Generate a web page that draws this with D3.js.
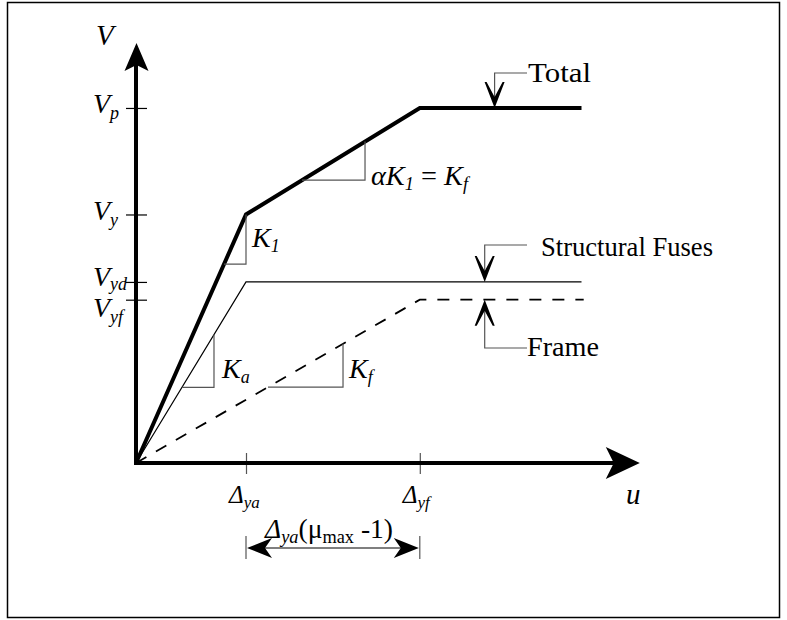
<!DOCTYPE html>
<html><head><meta charset="utf-8">
<script src="https://cdn.jsdelivr.net/npm/d3@7"></script>
<style>
html,body{margin:0;padding:0;background:#fff;}
svg text{font-family:"Liberation Serif","Times New Roman",serif;fill:#000;}
</style></head>
<body>
<svg id="c" width="787" height="620" font-family="Liberation Serif, Times New Roman, serif"></svg>
<script>
// ---- data (normalized displacement u, base shear V) ----
const uMax = 4.58, vMax = 1.183;
const uTickValues = [1, 2.58];
const uTickSubs = ["ya", "yf"];
const vTickValues = [1.0, 0.70, 0.51, 0.46];
const vTickSubs = ["p", "y", "yd", "yf"];
const totalU = [0, 1, 2.58, 4.05];
const totalV = [0, 0.70, 1.0, 1.0];
const fuseU = [0, 1, 4.05];
const fuseV = [0, 0.51, 0.51];
const frameU = [0, 2.58, 4.07];
const frameV = [0, 0.46, 0.46];
// slope triangles: which curve, start u, end u
const triCurve = ["total", "total", "fuse", "frame"];
const triU1 = [0.80, 1.509, 0.418, 1.20];
const triU2 = [1.0, 2.082, 0.709, 1.882];
const seriesNames = ["Total", "Structural Fuses", "Frame"];
const seriesArrowU = [3.26, 3.17, 3.17];

const curves = {
  total: {u: totalU, v: totalV},
  fuse: {u: fuseU, v: fuseV},
  frame: {u: frameU, v: frameV}
};
function valueAt(c, u) {
  const us = curves[c].u, vs = curves[c].v;
  for (let i = 1; i < us.length; i++) {
    if (u <= us[i]) return vs[i-1] + (vs[i]-vs[i-1])*(u-us[i-1])/(us[i]-us[i-1]);
  }
  return vs[vs.length-1];
}

const svg = d3.select("#c");
const x = d3.scaleLinear().domain([0, uMax]).range([136, 639.8]);
const y = d3.scaleLinear().domain([0, vMax]).range([463, 43]);
const line = d3.line().x(d => x(d[0])).y(d => y(d[1]));
const zip = (a, b) => a.map((d, i) => [d, b[i]]);

// border
svg.append("rect").attr("x", 7.5).attr("y", 2.5).attr("width", 772).attr("height", 615)
  .attr("fill", "none").attr("stroke", "#000").attr("stroke-width", 1.5);

// axes ticks using d3 axis
const gy = svg.append("g").attr("transform", `translate(${x(0)},0)`)
  .call(d3.axisLeft(y).tickValues(vTickValues).tickSize(10).tickFormat(""));
gy.select(".domain").remove();
gy.selectAll(".tick line").attr("x1", -10).attr("x2", 11).attr("stroke", "#000").attr("stroke-width", 1.2);

const gx = svg.append("g").attr("transform", `translate(0,${y(0)})`)
  .call(d3.axisBottom(x).tickValues(uTickValues).tickSize(10).tickFormat(""));
gx.select(".domain").remove();
gx.selectAll(".tick line").attr("y1", -10).attr("y2", 11).attr("stroke", "#555").attr("stroke-width", 1.2);

// axis lines
svg.append("line").attr("x1", x(0)).attr("y1", y(0)+2).attr("x2", x(0)).attr("y2", y(vMax)+20)
  .attr("stroke", "#000").attr("stroke-width", 4);
svg.append("line").attr("x1", x(0)-2).attr("y1", y(0)).attr("x2", x(uMax)-20).attr("y2", y(0))
  .attr("stroke", "#000").attr("stroke-width", 4);
// axis arrowheads
svg.append("path").attr("transform", `translate(${x(0)+0.5},${y(vMax)})`)
  .attr("d", "M0,0 L12,28 L0,22 L-12,28 Z").attr("fill", "#000");
svg.append("path").attr("transform", `translate(${x(uMax)},${y(0)})`)
  .attr("d", "M0,0 L-34,-16 L-26,0 L-34,16 Z").attr("fill", "#000");

// curves
svg.append("path").attr("d", line(zip(frameU, frameV))).attr("fill", "none")
  .attr("stroke", "#000").attr("stroke-width", 1.8).attr("stroke-dasharray", "12,11");
svg.append("path").attr("d", line(zip(fuseU, fuseV))).attr("fill", "none")
  .attr("stroke", "#000").attr("stroke-width", 1.2);
svg.append("path").attr("d", line(zip(totalU, totalV))).attr("fill", "none")
  .attr("stroke", "#000").attr("stroke-width", 4).attr("stroke-linejoin", "miter");

// slope triangles
triCurve.forEach((c, i) => {
  const u1 = triU1[i], u2 = triU2[i];
  const v1 = valueAt(c, u1), v2 = valueAt(c, u2);
  svg.append("path")
    .attr("d", `M${x(u1)},${y(v1)} L${x(u2)},${y(v1)} L${x(u2)},${y(v2)}`)
    .attr("fill", "none").attr("stroke", "#555").attr("stroke-width", 1.2);
});

// V axis labels
svg.append("text").attr("x", 96).attr("y", 45).attr("font-size", 29).attr("font-style", "italic").text("V");
const vLabelShift = [5, 6, 4, 17];
const vSubShift = [6, 6, 4, 6];
vTickValues.forEach((v, i) => {
  const t = svg.append("text").attr("x", 93).attr("y", y(v) + vLabelShift[i])
    .attr("font-size", 28).attr("font-style", "italic");
  t.append("tspan").text("V");
  t.append("tspan").attr("dy", vSubShift[i]).attr("font-size", 18).text(vTickSubs[i]);
});

// u axis labels
uTickValues.forEach((u, i) => {
  const t = svg.append("text").attr("x", x(u) - 17).attr("y", y(0) + 40)
    .attr("font-size", 25).attr("font-style", "italic");
  t.append("tspan").text("Δ");
  t.append("tspan").attr("dy", 5).attr("font-size", 17).text(uTickSubs[i]);
});
svg.append("text").attr("x", 626).attr("y", 504).attr("font-size", 29).attr("font-style", "italic").text("u");

// dimension line
const dy = 548;
[uTickValues[0], uTickValues[1]].forEach(u => {
  svg.append("line").attr("x1", x(u)).attr("x2", x(u)).attr("y1", dy - 12).attr("y2", dy + 11)
    .attr("stroke", "#555").attr("stroke-width", 1.2);
});
svg.append("line").attr("x1", x(uTickValues[0]) + 15).attr("x2", x(uTickValues[1]) - 15)
  .attr("y1", dy).attr("y2", dy).attr("stroke", "#000").attr("stroke-width", 1.2);
svg.append("path").attr("transform", `translate(${x(uTickValues[0])+1},${dy})`)
  .attr("d", "M0,0 L25,-10 L18,0 L25,10 Z").attr("fill", "#000");
svg.append("path").attr("transform", `translate(${x(uTickValues[1])-1},${dy})`)
  .attr("d", "M0,0 L-25,-10 L-18,0 L-25,10 Z").attr("fill", "#000");
const dt = svg.append("text").attr("x", 265).attr("y", 538).attr("font-size", 27)
  .attr("textLength", 128).attr("lengthAdjust", "spacingAndGlyphs");
dt.append("tspan").attr("font-style", "italic").text("Δ");
dt.append("tspan").attr("font-style", "italic").attr("font-size", 18).attr("dy", 5).text("ya");
dt.append("tspan").attr("dy", -5).text("(μ");
dt.append("tspan").attr("font-size", 18).attr("dy", 5).text("max");
dt.append("tspan").attr("dy", -5).text(" -1)");

// slope labels
function kLabel(px, py, sub, size) {
  const t = svg.append("text").attr("x", px).attr("y", py).attr("font-size", size).attr("font-style", "italic");
  t.append("tspan").text("K");
  t.append("tspan").attr("dy", 5).attr("font-size", 18).text(sub);
  return t;
}
kLabel(252, 247, "1", 28);
kLabel(222, 378, "a", 28);
kLabel(349, 378, "f", 28);
const ak = svg.append("text").attr("x", 371).attr("y", 185).attr("font-size", 28)
  .attr("textLength", 97).attr("lengthAdjust", "spacingAndGlyphs");
ak.append("tspan").attr("font-style", "italic").text("αK");
ak.append("tspan").attr("font-style", "italic").attr("font-size", 18).attr("dy", 5).text("1");
ak.append("tspan").attr("dy", -5).text(" = ");
ak.append("tspan").attr("font-style", "italic").text("K");
ak.append("tspan").attr("font-style", "italic").attr("font-size", 18).attr("dy", 5).text("f");

// series callouts
const arrowHead = "M0,0 L-10,-26 L-8,-26 L0,-11 L8,-26 L10,-26 Z";
function callout(name, u, v, dir, leaderY, textX, textY, textLen) {
  const ax = x(u), ay = y(v);
  svg.append("path").attr("d", `M${ax},${ay - dir*10} L${ax},${leaderY} L527,${leaderY}`)
    .attr("fill", "none").attr("stroke", "#555").attr("stroke-width", 1.2);
  svg.append("path").attr("transform", `translate(${ax},${ay})` + (dir < 0 ? " rotate(180)" : ""))
    .attr("d", arrowHead).attr("fill", "#000");
  svg.append("text").attr("x", textX).attr("y", textY).attr("font-size", 27)
    .attr("textLength", textLen).attr("lengthAdjust", "spacingAndGlyphs").text(name);
}
callout(seriesNames[0], seriesArrowU[0], totalV[2], 1, 73, 528, 82, 63);
callout(seriesNames[1], seriesArrowU[1], fuseV[2], 1, 245, 541, 256, 172);
callout(seriesNames[2], seriesArrowU[2], frameV[2], -1, 348, 527, 356, 72);
</script>
</body></html>
